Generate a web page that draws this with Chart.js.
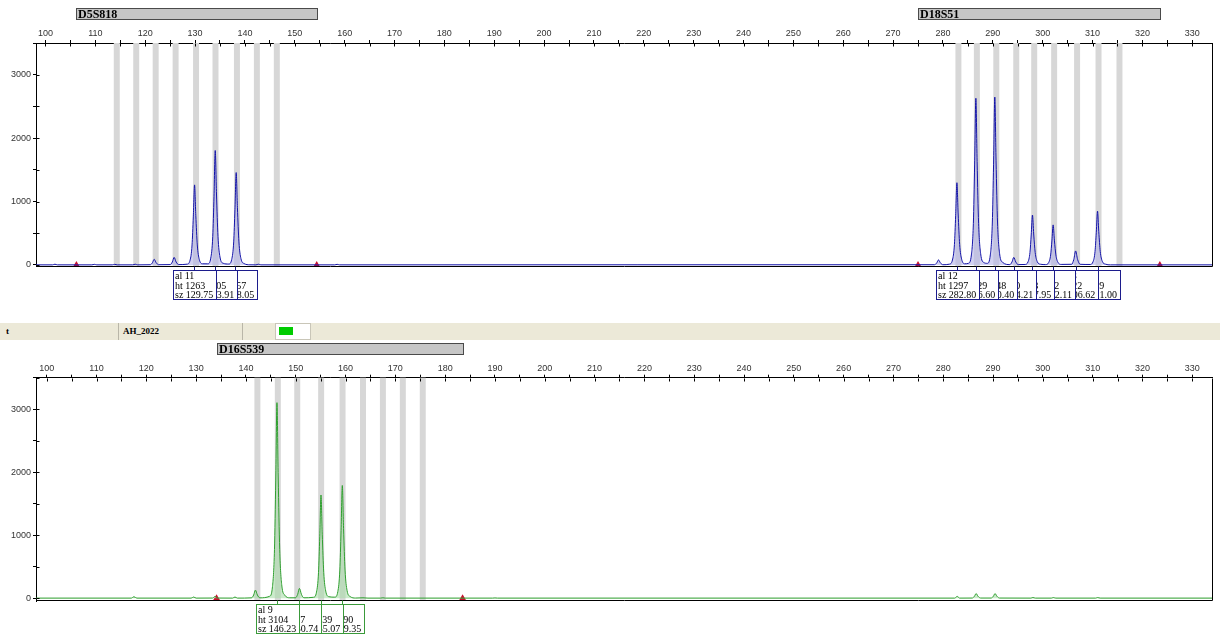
<!DOCTYPE html>
<html>
<head>
<meta charset="utf-8">
<script src="https://cdn.jsdelivr.net/npm/chart.js@4.4.1/dist/chart.umd.min.js"></script>
<style>
  body { margin: 0; background: #fff; width: 1220px; height: 635px; overflow: hidden; position: relative; }
  canvas { position: absolute; left: 0; }
  #topChart { top: 0; }
  #bottomChart { top: 340px; }
  .strip { position: absolute; left: 0; top: 323px; width: 1220px; height: 17px; background: #ece9d8; }
  .strip .cell { position: absolute; top: 0; height: 17px; border-left: 1px solid #b9b6a8; font: bold 9px "Liberation Serif", serif; line-height: 17px; padding-left: 4px; box-sizing: border-box; }
  .strip .swatch { position: absolute; left: 275px; top: 0; width: 36px; height: 17px; background: #fff; border: 1px solid #c9c6b8; box-sizing: border-box; }
  .strip .swatch i { position: absolute; left: 3px; top: 3px; width: 14px; height: 8px; background: #00cc00; }
</style>
</head>
<body>
<canvas id="topChart" width="1220" height="322"></canvas>
<div class="strip">
  <div class="cell" style="left:6px;border:none;padding:0">t</div>
  <div class="cell" style="left:118px;width:124px">AH_2022</div>
  <div class="cell" style="left:242px;width:1px"></div>
  <div class="swatch"><i></i></div>
</div>
<canvas id="bottomChart" width="1220" height="295"></canvas>
<script>
// size range (bp) and signal range (RFU)
const topXMin = 98.1
const bottomXMin = 97.85
const xMax = 334.1
const yTicks = [0, 500, 1000, 1500, 2000, 2500, 3000, 3500]
const yLabelled = [0, 1000, 2000, 3000]

// blue dye trace [bp, rfu]
const blueTrace = [
  [98.1, 2], [101.4, 2], [101.9, 12], [102.4, 2],
  [109.3, 2], [109.8, 10], [110.3, 2],
  [113.4, 2], [113.9, 10], [114.4, 2],
  [117.5, 2], [118.0, 12], [118.5, 2],
  [121.0, 4], [121.45, 36], [121.8, 90], [122.2, 36], [122.7, 4],
  [125.0, 6], [125.45, 48], [125.8, 120], [126.2, 48], [126.7, 6],
  [128.4, 13], [129.0, 76], [129.4, 316], [129.65, 758], [129.9, 1263], [130.15, 783], [130.45, 316], [130.85, 88], [131.5, 19],
  [132.55, 18], [133.15, 108], [133.55, 451], [133.8, 1083], [134.05, 1805], [134.3, 1119], [134.6, 451], [135.0, 126], [135.65, 27],
  [136.75, 15], [137.35, 87], [137.75, 364], [138.0, 874], [138.25, 1457], [138.5, 903], [138.8, 364], [139.2, 102], [139.85, 22],
  [141.0, 3], [142.2, 2], [142.7, 12], [143.2, 2],
  [158.0, 2], [158.5, 10], [159.0, 2],
  [278.3, 4], [278.75, 32], [279.1, 80], [279.5, 32], [280.0, 4],
  [281.3, 13], [281.9, 78], [282.3, 324], [282.55, 778], [282.8, 1297], [283.05, 804], [283.35, 324], [283.75, 91], [284.4, 19],
  [285.1, 26], [285.7, 158], [286.1, 657], [286.35, 1577], [286.6, 2629], [286.85, 1630], [287.15, 657], [287.55, 184], [288.2, 39],
  [288.9, 26], [289.5, 159], [289.9, 662], [290.15, 1589], [290.4, 2648], [290.65, 1642], [290.95, 662], [291.35, 185], [292.0, 40],
  [293.4, 6], [293.85, 48], [294.2, 120], [294.6, 48], [295.1, 6],
  [296.45, 8], [297.05, 47], [297.45, 197], [297.7, 473], [297.95, 788], [298.2, 489], [298.5, 197], [298.9, 55], [299.55, 12],
  [300.6, 6], [301.2, 38], [301.6, 158], [301.85, 379], [302.1, 632], [302.35, 392], [302.65, 158], [303.05, 44], [303.7, 9],
  [305.8, 11], [306.25, 89], [306.6, 222], [307.0, 89], [307.5, 11],
  [309.5, 8], [310.1, 51], [310.5, 212], [310.75, 509], [311.0, 849], [311.25, 526], [311.55, 212], [311.95, 59], [312.6, 13],
  [313.6, 2], [334.1, 2]
]

// green dye trace [bp, rfu]
const greenTrace = [
  [97.85, 3], [117.0, 3], [117.5, 25], [118.1, 3],
  [129.0, 3], [129.5, 20], [130.0, 3],
  [133.3, 4], [133.8, 30], [134.3, 4],
  [137.3, 3], [137.8, 20], [138.3, 3],
  [141.1, 7], [141.55, 52], [141.9, 130], [142.3, 52], [142.8, 7],
  [144.73, 31], [145.33, 186], [145.73, 776], [145.98, 1862], [146.23, 3104], [146.48, 1924], [146.78, 776], [147.18, 217], [147.83, 47],
  [148.8, 8], [149.94, 8], [150.39, 63], [150.74, 157], [151.14, 63], [151.64, 8],
  [153.57, 16], [154.17, 98], [154.57, 410], [154.82, 983], [155.07, 1639], [155.32, 1016], [155.62, 410], [156.02, 115], [156.67, 25],
  [157.85, 18], [158.45, 107], [158.85, 448], [159.1, 1074], [159.35, 1790], [159.6, 1110], [159.9, 448], [160.3, 125], [160.95, 27],
  [162.0, 4], [163.5, 8], [164.5, 3], [167.0, 3], [167.5, 8], [168.0, 3],
  [189.5, 3], [190.0, 6], [190.5, 3],
  [282.3, 3], [282.8, 30], [283.3, 3],
  [285.8, 4], [286.25, 30], [286.6, 75], [287.0, 30], [287.5, 4],
  [289.6, 4], [290.05, 30], [290.4, 75], [290.8, 30], [291.3, 4],
  [297.6, 3], [298.0, 12], [298.5, 3],
  [301.7, 3], [302.1, 12], [302.6, 3],
  [310.6, 3], [311.0, 12], [311.5, 3],
  [334.1, 3]
]

// allele bins (bp)
const topBins = [114.3, 118.2, 122.1, 126.1, 130.2, 134.1, 138.4, 142.4, 146.4,
  283.1, 286.8, 290.7, 294.7, 298.3, 302.3, 306.9, 311.2, 315.4]
const bottomBins = [142.3, 146.4, 150.3, 155.1, 159.4, 163.5, 167.5, 171.5, 175.5]

// markers
const topMarkerNames = ['D5S818', 'D18S51']
const topMarkerStart = [106.2, 275.0]
const topMarkerEnd = [154.4, 323.5]
const bottomMarkerNames = ['D16S539']
const bottomMarkerStart = [134.1]
const bottomMarkerEnd = [183.5]

// called alleles
const topAlleles = ['11', '12', '13', '12', '13', '14', '15', '16', '17', '18', '19']
const topHeights = [1263, 1805, 1457, 1297, 2629, 2648, 120, 788, 632, 222, 849]
const topSizes = [129.75, 133.91, 138.05, 282.80, 286.60, 290.40, 294.21, 297.95, 302.11, 306.62, 311.00]
const bottomAlleles = ['9', '10', '11', '12']
const bottomHeights = [3104, 157, 1639, 1790]
const bottomSizes = [146.23, 150.74, 155.07, 159.35]

const BIN_HALF = 0.6

const strPlugin = {
  id: 'strPanel',
  beforeDatasetsDraw(chart, args, opts) {
    const { ctx, chartArea: a } = chart
    const x = chart.scales.x
    ctx.save()
    ctx.fillStyle = '#d7d7d7'
    opts.bins.forEach(b => {
      const l = x.getPixelForValue(b - BIN_HALF)
      const r = x.getPixelForValue(b + BIN_HALF)
      ctx.fillRect(l, a.top, r - l, a.bottom - a.top)
    })
    ctx.restore()
  },
  afterDraw(chart, args, opts) {
    const { ctx, chartArea: a } = chart
    const x = chart.scales.x
    const y = chart.scales.y
    ctx.save()
    ctx.strokeStyle = '#000'
    ctx.lineWidth = 1
    const L = Math.round(a.left) + 0.5, R = Math.round(a.right) - 0.5
    const T = Math.round(a.top) + 0.5, B = Math.round(a.bottom) - 0.5
    // frame right + bottom
    ctx.beginPath()
    ctx.moveTo(R, T); ctx.lineTo(R, B); ctx.lineTo(L, B)
    // inward halves of the tick marks
    x.ticks.forEach((t, i) => {
      const px = Math.round(x.getPixelForTick(i)) + 0.5
      ctx.moveTo(px, T); ctx.lineTo(px, T + 3)
    })
    y.ticks.forEach((t, i) => {
      const py = Math.round(y.getPixelForTick(i)) + 0.5
      ctx.moveTo(L, py); ctx.lineTo(L + 3, py)
    })
    ctx.stroke()

    // marker bars above the axis
    opts.markerNames.forEach((name, i) => {
      const l = Math.round(x.getPixelForValue(opts.markerStart[i])) + 0.5
      const r = Math.round(x.getPixelForValue(opts.markerEnd[i])) + 0.5
      const t = Math.round(a.top) - 35 + 0.5
      ctx.fillStyle = '#c6c6c6'
      ctx.fillRect(l, t, r - l, 11)
      ctx.strokeStyle = '#4a4a4a'
      ctx.strokeRect(l, t, r - l, 11)
      ctx.fillStyle = '#000'
      ctx.font = 'bold 12px "Liberation Serif", serif'
      ctx.textBaseline = 'alphabetic'
      ctx.fillText(name, l + 1.5, t + 9.5)
    })

    // allele call boxes, drawn right to left so the left box sits on top
    const boxTop = Math.round(a.bottom) + 3.5
    const boxH = 29
    for (let i = opts.sizes.length - 1; i >= 0; i--) {
      const px = x.getPixelForValue(opts.sizes[i])
      const l = Math.round(px - 21) + 0.5
      const w = 43
      ctx.strokeStyle = opts.boxColor
      ctx.beginPath()
      ctx.moveTo(Math.round(px) + 0.5, B)
      ctx.lineTo(Math.round(px) + 0.5, boxTop)
      ctx.stroke()
      ctx.fillStyle = '#fff'
      ctx.fillRect(l, boxTop, w, boxH)
      ctx.strokeRect(l, boxTop, w, boxH)
      ctx.save()
      ctx.beginPath()
      ctx.rect(l + 0.5, boxTop + 0.5, w - 1, boxH - 1)
      ctx.clip()
      ctx.fillStyle = '#000'
      ctx.font = '10px "Liberation Serif", serif'
      ctx.fillText('al ' + opts.alleles[i], l + 1.5, boxTop + 8.5)
      ctx.fillText('ht ' + opts.heights[i], l + 1.5, boxTop + 18)
      ctx.fillText('sz ' + opts.sizes[i].toFixed(2), l + 1.5, boxTop + 27)
      ctx.restore()
    }
    ctx.restore()
  }
}

const tickFont = { family: '"Liberation Sans", Arial, sans-serif', size: 9 }

function makePanel(canvasId, cfg) {
  return new Chart(document.getElementById(canvasId), {
    type: 'line',
    data: {
      datasets: [
        {
          data: cfg.trace.map(p => ({ x: p[0], y: p[1] })),
          borderColor: cfg.lineColor,
          borderWidth: 1,
          backgroundColor: cfg.fillColor,
          fill: 'origin',
          pointRadius: 0,
          cubicInterpolationMode: 'monotone'
        },
        {
          data: cfg.triangles.map(v => ({ x: v, y: 0 })),
          showLine: false,
          pointStyle: 'triangle',
          pointRadius: 4,
          backgroundColor: '#c8102e',
          borderColor: '#c8102e',
          borderWidth: 0,
          clip: false
        }
      ]
    },
    options: {
      responsive: false,
      animation: false,
      events: [],
      layout: { padding: cfg.padding },
      plugins: {
        legend: { display: false },
        tooltip: { enabled: false },
        strPanel: cfg.str
      },
      scales: {
        x: {
          type: 'linear',
          position: 'top',
          min: cfg.xMin,
          max: xMax,
          afterFit: s => { s.height = 18 },
          grid: { drawOnChartArea: false, tickLength: 3, color: '#000' },
          border: { color: '#000', width: 1 },
          ticks: {
            stepSize: 5,
            autoSkip: false,
            maxRotation: 0,
            includeBounds: false,
            padding: 1,
            color: '#333',
            font: tickFont,
            callback: v => Math.abs(v % 10) < 0.001 ? String(Math.round(v)) : ''
          }
        },
        y: {
          min: cfg.yMin,
          max: 3500,
          afterFit: s => { s.width = 36 },
          afterBuildTicks: s => { s.ticks = yTicks.map(v => ({ value: v })) },
          grid: { drawOnChartArea: false, tickLength: 3, color: '#000' },
          border: { color: '#000', width: 1 },
          ticks: {
            autoSkip: false,
            padding: 2,
            color: '#333',
            font: tickFont,
            callback: v => yLabelled.includes(v) ? String(v) : ''
          }
        }
      }
    },
    plugins: [strPlugin]
  })
}

makePanel('topChart', {
  trace: blueTrace,
  lineColor: '#1414a8',
  fillColor: 'rgba(180,180,232,0.6)',
  triangles: topMarkerStart.concat(topMarkerEnd),
  xMin: topXMin,
  yMin: -27,
  padding: { top: 25, left: 0, right: 7.3, bottom: 55.3 },
  str: {
    bins: topBins,
    markerNames: topMarkerNames, markerStart: topMarkerStart, markerEnd: topMarkerEnd,
    alleles: topAlleles, heights: topHeights, sizes: topSizes,
    boxColor: '#1c1c8c'
  }
})

makePanel('bottomChart', {
  trace: greenTrace,
  lineColor: '#2f9f2f',
  fillColor: 'rgba(170,220,170,0.6)',
  triangles: bottomMarkerStart.concat(bottomMarkerEnd),
  xMin: bottomXMin,
  yMin: -43,
  padding: { top: 19.7, left: 0, right: 7.3, bottom: 34 },
  str: {
    bins: bottomBins,
    markerNames: bottomMarkerNames, markerStart: bottomMarkerStart, markerEnd: bottomMarkerEnd,
    alleles: bottomAlleles, heights: bottomHeights, sizes: bottomSizes,
    boxColor: '#3a9a3a'
  }
})
</script>
</body>
</html>
